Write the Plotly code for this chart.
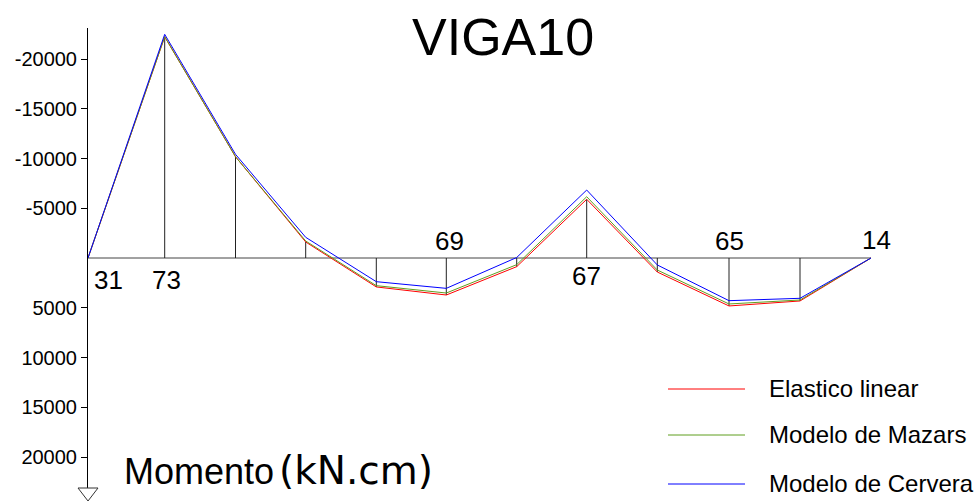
import plotly.graph_objects as go

# Beam VIGA10: bending moment along the beam for three material models
positions = [0, 76.7, 147.5, 217.7, 288.3, 358.3, 428.7, 498.7, 569.3, 641, 712, 783]
elastico = [0, -22240, -10180, -1610, 2910, 3720, 870, -5900, 1410, 4820, 4320, 0]
mazars = [0, -22240, -10180, -1710, 2780, 3520, 670, -6160, 1210, 4620, 4220, 0]
cervera = [0, -22480, -10420, -2080, 2380, 3050, -50, -6830, 700, 4290, 4050, 0]

node_labels = {0: "31", 1: "73", 5: "69", 7: "67", 9: "65", 11: "14"}

series_names = ["Elastico linear", "Modelo de Mazars", "Modelo de Cervera"]
series_colors = ["#ff0000", "#5f9e1f", "#0000ff"]

tick_values = [-20000, -15000, -10000, -5000, 5000, 10000, 15000, 20000]
tick_labels = ["-20000", "-15000", "-10000", "-5000", "5000", "10000", "15000", "20000"]

FONT = "Liberation Sans, Arial, sans-serif"
W_PX, H_PX = 977, 501
L, T, PW, PH = 88, 28, 800, 460


def fx(px):
    return (px - L) / PW


def fy(py):
    return 1 - (py - T) / PH


fig = go.Figure()

# baseline of the beam
fig.add_trace(go.Scatter(
    x=[positions[0], positions[-1]], y=[0, 0], mode="lines",
    line=dict(color="#444444", width=1), hoverinfo="skip", showlegend=False))

# ordinates at each node (elastic diagram)
vx, vy = [], []
for p, v in zip(positions[1:-1], elastico[1:-1]):
    vx += [p, p, None]
    vy += [0, v, None]
fig.add_trace(go.Scatter(
    x=vx, y=vy, mode="lines", line=dict(color="#222222", width=1),
    hoverinfo="skip", showlegend=False))

for name, vals, col in zip(series_names, [elastico, mazars, cervera], series_colors):
    fig.add_trace(go.Scatter(
        x=positions, y=vals, mode="lines", name=name,
        line=dict(color=col, width=1), showlegend=False))

annotations = []
shapes = []

# node numbers
label_offsets = {0: (20, -22), 1: (2, -22), 5: (3, 17), 7: (0, -18), 9: (0, 17), 11: (5, 18)}
for i, txt in node_labels.items():
    dx, dy = label_offsets[i]
    annotations.append(dict(
        x=positions[i], y=0, xref="x", yref="y", text=txt, showarrow=False,
        xanchor="center", yanchor="middle", xshift=dx, yshift=dy,
        font=dict(family=FONT, size=26, color="black")))

# title
annotations.append(dict(
    x=fx(503), y=fy(37), xref="paper", yref="paper", text="VIGA10",
    showarrow=False, xanchor="center", yanchor="middle",
    font=dict(family=FONT, size=52, color="black")))

# axis caption
annotations.append(dict(
    x=fx(122), y=fy(471), xref="paper", yref="paper", text="Momento",
    showarrow=False, xanchor="left", yanchor="middle",
    font=dict(family=FONT, size=36, color="black")))
annotations.append(dict(
    x=fx(277), y=fy(470), xref="paper", yref="paper", text="(kN.cm)",
    showarrow=False, xanchor="left", yanchor="middle",
    font=dict(family="DejaVu Sans, sans-serif", size=39, color="black")))

# legend
legend_rows = [389, 435, 484]
for name, col, ry in zip(series_names, series_colors, legend_rows):
    shapes.append(dict(
        type="line", xref="paper", yref="paper",
        x0=fx(668), x1=fx(745), y0=fy(ry), y1=fy(ry),
        line=dict(color=col, width=1)))
    annotations.append(dict(
        x=fx(767), y=fy(ry - 1), xref="paper", yref="paper", text=name,
        showarrow=False, xanchor="left", yanchor="middle",
        font=dict(family=FONT, size=24, color="black")))

# arrow head at the foot of the moment axis
shapes.append(dict(
    type="path", xref="paper", yref="paper",
    path="M {} {} L {} {} L {} {} Z".format(fx(78), fy(488), fx(98), fy(488), fx(88), fy(501)),
    line=dict(color="#333333", width=1), fillcolor="white"))

fig.update_layout(
    width=W_PX, height=H_PX,
    margin=dict(l=L, r=W_PX - L - PW, t=T, b=H_PX - T - PH, pad=0, autoexpand=False),
    paper_bgcolor="white", plot_bgcolor="white",
    xaxis=dict(visible=False, range=[0, PW], fixedrange=True),
    yaxis=dict(
        range=[23116, -23116], showgrid=False, zeroline=False,
        showline=True, linecolor="black", linewidth=1,
        ticks="outside", ticklen=6, tickcolor="black", tickwidth=1,
        tickvals=tick_values, ticktext=tick_labels,
        tickfont=dict(family=FONT, size=20, color="black"),
    ),
    annotations=annotations, shapes=shapes,
    showlegend=False,
)

fig.write_html("out.html")
